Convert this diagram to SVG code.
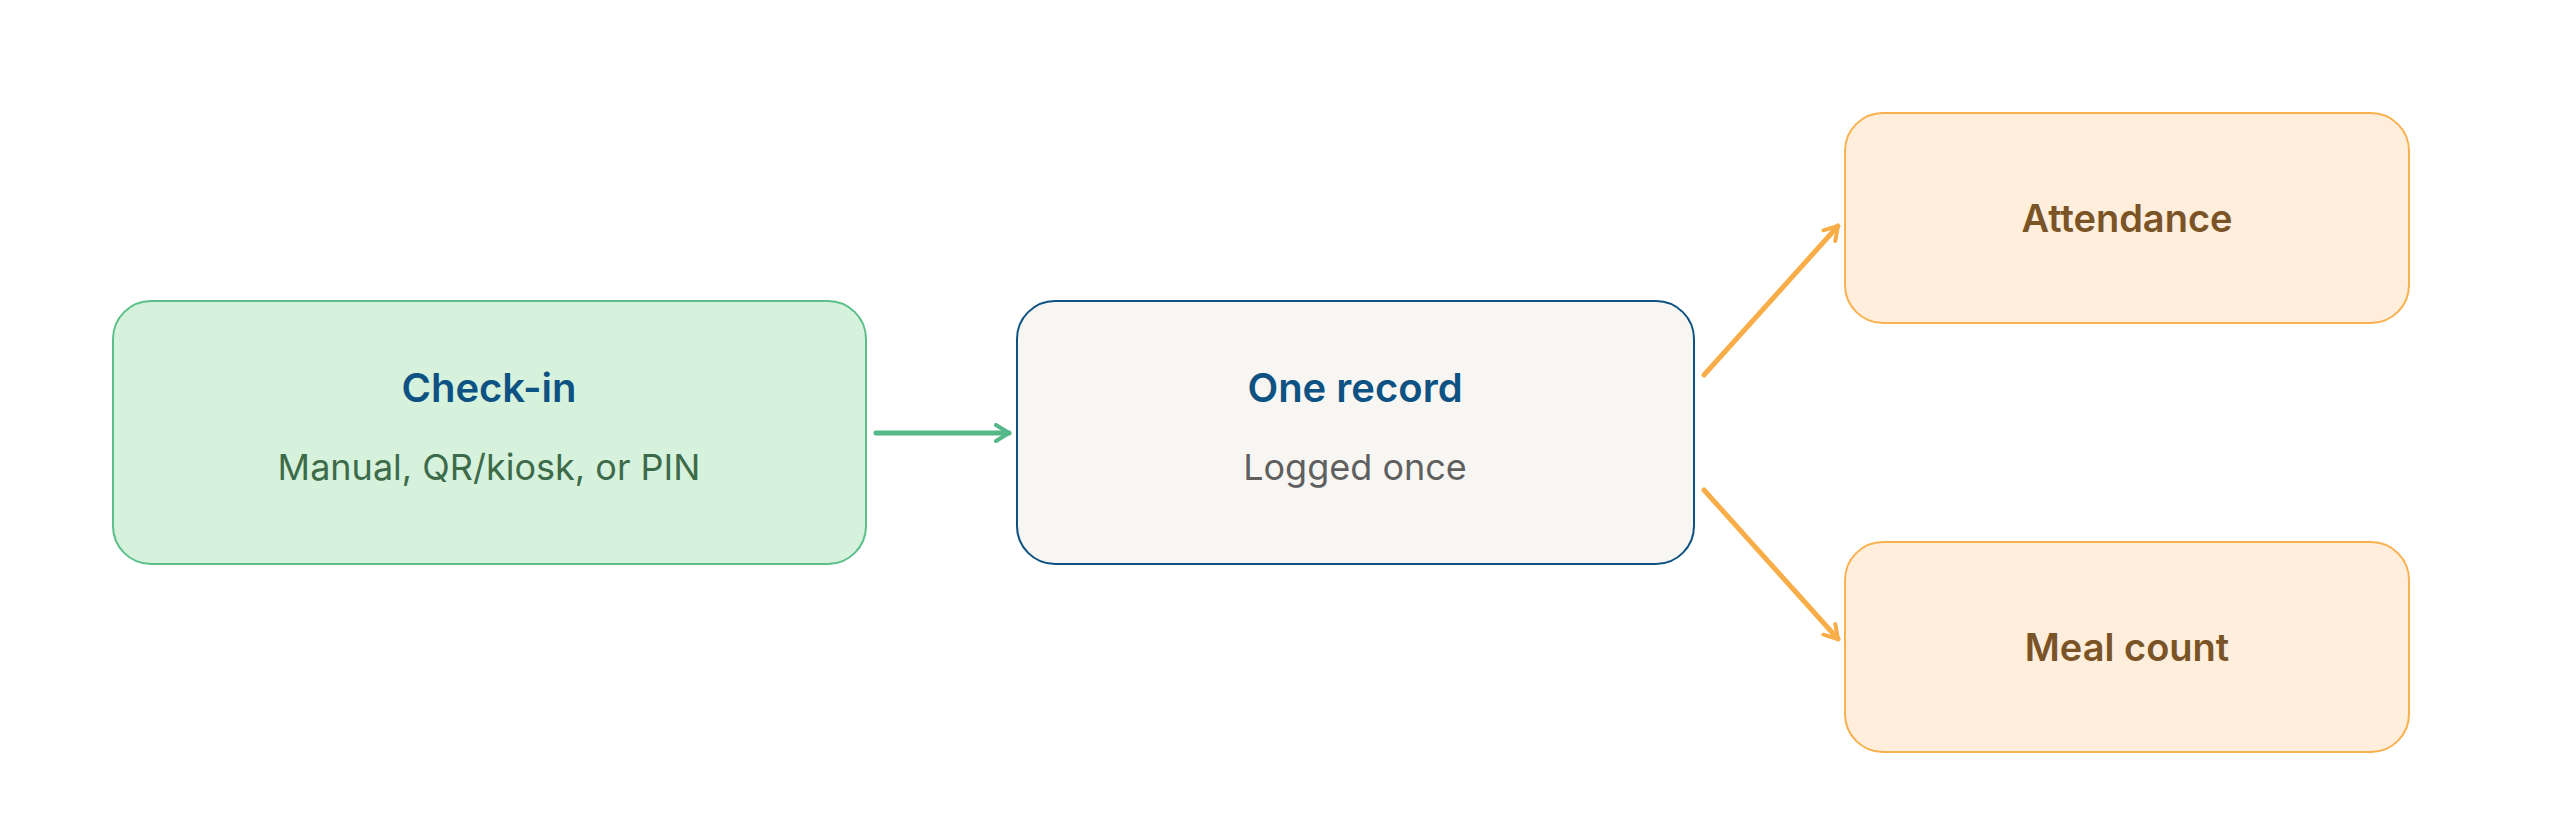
<svg xmlns="http://www.w3.org/2000/svg" width="2560" height="828" viewBox="0 0 2560 828">
<style>
text{font-family:Inter,"Noto Sans","Liberation Sans",sans-serif;text-anchor:middle}
.t{font-size:40px;font-weight:600;fill:#0d5282}
.s{font-size:36px}
.o{font-size:38px;font-weight:600;fill:#7a5427}
.ob{fill:#ffeedb;stroke:#f9b04e;stroke-width:2}
</style>
<defs>
<marker id="ag" viewBox="0 0 20 20" refX="17" refY="10" markerWidth="20" markerHeight="20" markerUnits="userSpaceOnUse" orient="auto"><path d="M4 2 L17 10 L4 18" fill="none" stroke="#55b888" stroke-width="4" stroke-linecap="round" stroke-linejoin="round"/></marker>
<marker id="ao" viewBox="0 0 20 20" refX="17" refY="10" markerWidth="20" markerHeight="20" markerUnits="userSpaceOnUse" orient="auto"><path d="M4 2 L17 10 L4 18" fill="none" stroke="#f8ad48" stroke-width="4" stroke-linecap="round" stroke-linejoin="round"/></marker>
</defs>
<rect width="2560" height="828" fill="#fff"/>
<g id="connectors" fill="none" stroke-width="5" stroke-linecap="round">
<line x1="876" y1="433" x2="1009" y2="433" stroke="#55b888" marker-end="url(#ag)"/>
<line x1="1704" y1="375" x2="1838" y2="226" stroke="#f8ad48" marker-end="url(#ao)"/>
<line x1="1704" y1="490" x2="1838" y2="639" stroke="#f8ad48" marker-end="url(#ao)"/>
</g>
<g id="checkin">
<rect x="113" y="301" width="753" height="263" rx="38" fill="#d6f2dc" stroke="#5cbf8a" stroke-width="2"/>
<text class="t" x="489" y="402">Check-in</text>
<text class="s" x="489" y="480" fill="#3d6b4a">Manual, QR/kiosk, or PIN</text>
</g>
<g id="record">
<rect x="1017" y="301" width="677" height="263" rx="38" fill="#f7f6f3" stroke="#0d5282" stroke-width="2"/>
<text class="t" x="1355" y="402">One record</text>
<text class="s" x="1355" y="480" fill="#5f5f5f">Logged once</text>
</g>
<g id="attendance">
<rect class="ob" x="1845" y="113" width="564" height="210" rx="38"/>
<text class="o" x="2127" y="232">Attendance</text>
</g>
<g id="meal">
<rect class="ob" x="1845" y="542" width="564" height="210" rx="38"/>
<text class="o" x="2127" y="661">Meal count</text>
</g>
</svg>
